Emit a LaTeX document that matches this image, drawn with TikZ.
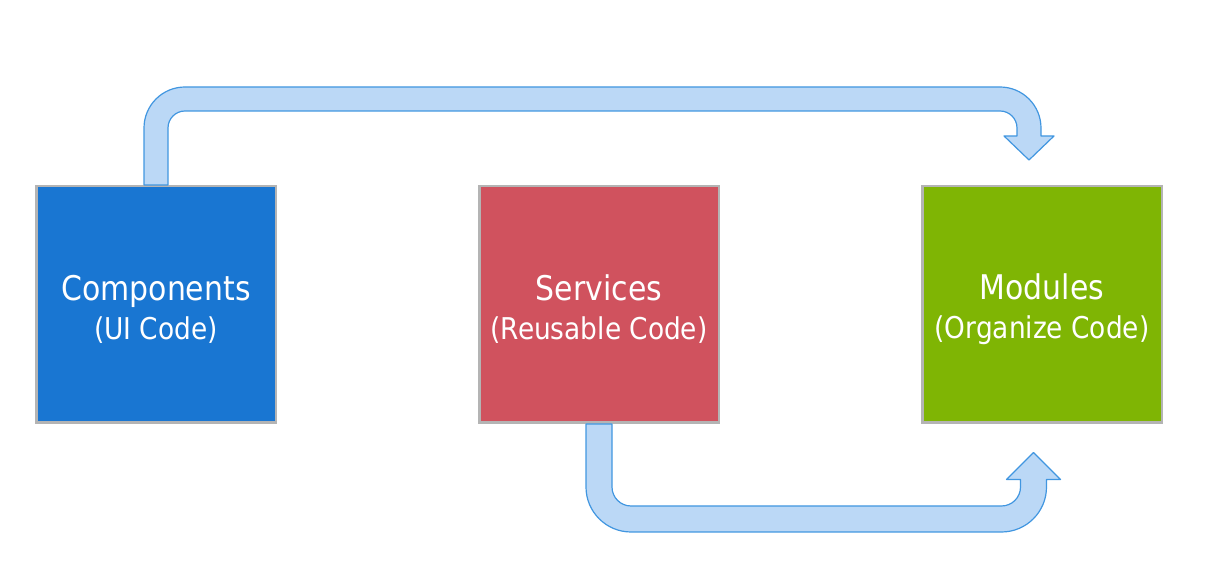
\documentclass[tikz,border=0pt]{standalone}
\usepackage{fontspec}
\setmainfont{DejaVu Sans}[FakeStretch=0.88]
\usetikzlibrary{positioning,calc}
\definecolor{compblue}{HTML}{1976D2}
\definecolor{servred}{HTML}{D0525E}
\definecolor{modgreen}{HTML}{7FB504}
\definecolor{pipefill}{HTML}{BBD8F6}
\definecolor{pipeline}{HTML}{4196E0}
\definecolor{boxgray}{HTML}{B4B4B4}
\newcommand{\subline}[1]{\fontsize{30}{39}\selectfont #1}
\begin{document}
\begin{tikzpicture}[x=1pt,y=1pt]
\tikzset{blok/.style={draw=boxgray, line width=2.5pt, minimum width=239.5pt, minimum height=236.5pt, text=white, align=center, font=\fontsize{34}{39}\selectfont},
  pipe/.style={fill=pipefill, draw=pipeline, line width=1.2pt, line join=round}}
\useasboundingbox (0,0) rectangle (1221,585);
\node[blok, fill=compblue] (comp) at (156,280.5) {\rule{0pt}{35pt}Components\\ \subline{(UI Code)}};
\node[blok, fill=servred, right=201pt of comp] (serv) {\rule{0pt}{35pt}Services\\ \subline{(Reusable Code)}};
\node[blok, fill=modgreen, right=201pt of serv] (mod) {\rule{0pt}{35pt}Modules\\ \subline{(Organize Code)}};
% Components -> Modules, over the top
\filldraw[pipe] let \p1=(comp.north), \p2=($(mod.north)+(-13,25)$) in
  (\x1-12,\y1) -- (\x1-12,\y1+57) arc[start angle=180, end angle=90, radius=41pt]
  -- (\x2+12-41,\y1+98) arc[start angle=90, end angle=0, radius=41pt]
  -- (\x2+12,\y2+24) -- (\x2+25,\y2+24) -- (\x2,\y2) -- (\x2-25,\y2+24) -- (\x2-12,\y2+24)
  -- (\x2-12,\y1+57) arc[start angle=0, end angle=90, radius=17pt]
  -- (\x1+12+17,\y1+74) arc[start angle=90, end angle=180, radius=17pt]
  -- (\x1+12,\y1) -- cycle;
% Services -> Modules, under the bottom
\filldraw[pipe] let \p1=(serv.south), \p2=($(mod.south)+(-8.5,-28.5)$) in
  (\x1-13,\y1) -- (\x1-13,\y1-63) arc[start angle=180, end angle=270, radius=45pt]
  -- (\x2+13-45,\y1-108) arc[start angle=270, end angle=360, radius=45pt]
  -- (\x2+13,\y2-27) -- (\x2+27,\y2-27) -- (\x2,\y2) -- (\x2-27,\y2-27) -- (\x2-13,\y2-27)
  -- (\x2-13,\y1-63) arc[start angle=0, end angle=-90, radius=19pt]
  -- (\x1+13+19,\y1-82) arc[start angle=270, end angle=180, radius=19pt]
  -- (\x1+13,\y1) -- cycle;
\end{tikzpicture}
\end{document}
